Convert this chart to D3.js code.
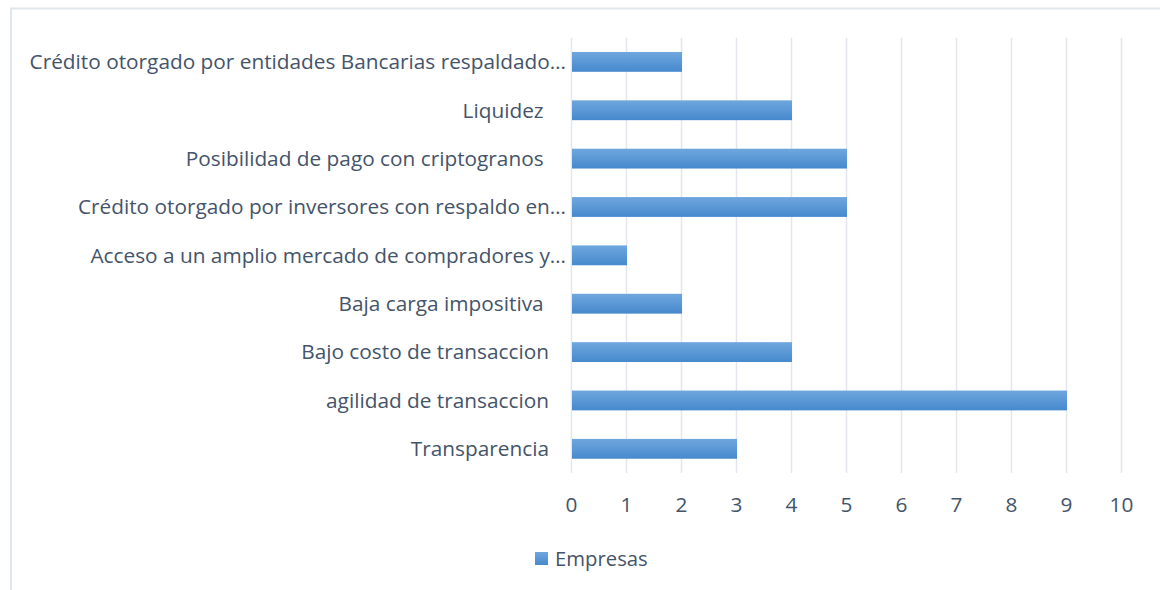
<!DOCTYPE html>
<html><head><meta charset="utf-8">
<script src="https://cdn.jsdelivr.net/npm/d3@7"></script>
<style>
html,body{margin:0;padding:0;background:#fff;}
svg text{font-family:"Open Sans",sans-serif;fill:#44546a;white-space:pre;}
</style></head>
<body><svg id="c" width="1160" height="590"></svg>
<script>
const categories = [
  "Crédito otorgado por entidades Bancarias respaldado…",
  "Liquidez ",
  "Posibilidad de pago con criptogranos ",
  "Crédito otorgado por inversores con respaldo en…",
  "Acceso a un amplio mercado de compradores y…",
  "Baja carga impositiva ",
  "Bajo costo de transaccion",
  "agilidad de transaccion",
  "Transparencia"
];
const values = [2, 4, 5, 5, 1, 2, 4, 9, 3];
const xTicks = [0,1,2,3,4,5,6,7,8,9,10];
const seriesName = "Empresas";

const svg = d3.select("#c");
const defs = svg.append("defs");
const g = defs.append("linearGradient").attr("id","bg").attr("x1",0).attr("y1",0).attr("x2",0).attr("y2",1);
g.append("stop").attr("offset","0%").attr("stop-color","#6fa7de");
g.append("stop").attr("offset","100%").attr("stop-color","#4689cd");

// outer border
svg.append("path").attr("d","M11,590V8.5H1160").attr("fill","none").attr("stroke","#e1e5ee").attr("stroke-width",2);

const x = d3.scaleLinear().domain([0,10]).range([571.5,1121.5]);
const y = d3.scaleBand().domain(categories).range([37.7,473]).paddingInner(0.59).paddingOuter(0.295);

// gridlines
svg.append("g").selectAll("line").data(xTicks).join("line")
  .attr("x1",d=>x(d)).attr("x2",d=>x(d)).attr("y1",37.7).attr("y2",473)
  .attr("stroke","#e3e6ec").attr("stroke-width",1.5);

// bars
svg.append("g").selectAll("rect").data(values).join("rect")
  .attr("x",x(0)+0.5).attr("y",(d,i)=>y(categories[i]))
  .attr("width",d=>x(d)-x(0)).attr("height",y.bandwidth())
  .attr("fill","url(#bg)");

// category labels
svg.append("g").selectAll("text").data(categories).join("text")
  .attr("x",d=>d.endsWith("…")?566:549)
  .attr("y",d=>y(d)+y.bandwidth()/2)
  .attr("dy","0.35em").attr("text-anchor","end")
  .attr("font-size",20.8).text(d=>d);

// x tick labels
svg.append("g").selectAll("text").data(xTicks).join("text")
  .attr("x",d=>x(d)).attr("y",505).attr("dy","0.35em")
  .attr("text-anchor","middle").attr("font-size",20.8).text(d=>d);

// legend
svg.append("rect").attr("x",535).attr("y",552).attr("width",13).attr("height",13).attr("fill","url(#bg)");
svg.append("text").attr("x",555).attr("y",558.5).attr("dy","0.35em").attr("font-size",20.3).text(seriesName);
</script></body></html>
